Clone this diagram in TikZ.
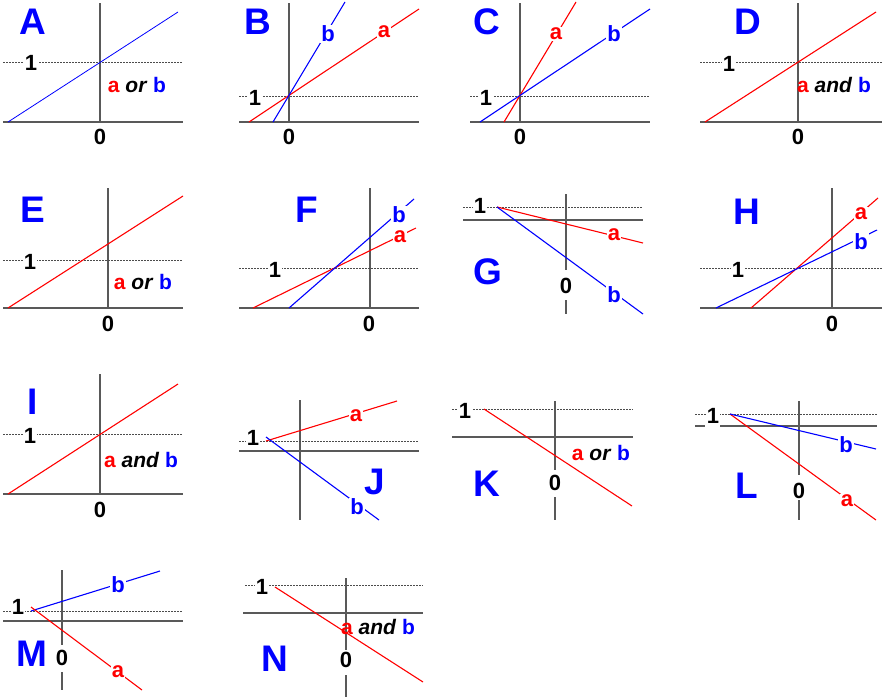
\documentclass[tikz,border=0pt]{standalone}
\usepackage{fontspec}
\setmainfont{Liberation Sans}
\begin{document}
\begin{tikzpicture}[x=1pt,y=-1pt,
  ax/.style={draw=black!65,line width=1.1pt},
  dot/.style={draw=black!70,dash pattern=on 1.5pt off 1.5pt,line width=0.8pt},
  rl/.style={draw=red,line width=1.1pt},
  bl/.style={draw=blue,line width=1.1pt},
  lab/.style={font=\fontsize{37}{37}\selectfont\bfseries,text=blue},
  num/.style={font=\fontsize{22}{22}\selectfont\bfseries,fill=white,inner sep=1pt},
  ta/.style={font=\fontsize{22}{22}\selectfont\bfseries,text=red,fill=white,inner sep=1pt},
  tb/.style={font=\fontsize{22}{22}\selectfont\bfseries,text=blue,fill=white,inner sep=1pt},
  txt/.style={font=\fontsize{21}{21}\selectfont\bfseries,inner sep=1pt}]
\useasboundingbox (0,0) rectangle (882,699);
\newcommand\aor{\textcolor{red}{a} \textit{or} \textcolor{blue}{b}}
\newcommand\aand{\textcolor{red}{a} \textit{and} \textcolor{blue}{b}}
% A
\draw[ax] (100,3)--(100,122) (3,122)--(183,122);
\draw[dot] (3,62)--(183,62);
\node[num] (A1) at (31,63) {1};
\node[num] (A0) at (100,137) {0};
\draw[bl,line width=0.8pt] (8,122)--(178,12);
\node[txt] (At) at (137,85) {\aor};
\node[lab] (A) at (33,22) {A};
% B
\draw[ax] (289,3)--(289,122) (239,122)--(419,122);
\draw[dot] (239,96)--(419,96);
\node[num] (B1) at (255,98) {1};
\node[num] (B0) at (289,137) {0};
\draw[rl] (249,122)--(419,9);
\draw[bl] (273,122)--(345,2);
\node[ta] (Ba) at (384,32) {a};
\node[tb] (Bb) at (328,34) {b};
\node[lab] (B) at (258,22) {B};
% C
\draw[ax] (520,3)--(520,122) (470,122)--(650,122);
\draw[dot] (470,96)--(650,96);
\node[num] (C1) at (486,98) {1};
\node[num] (C0) at (520,137) {0};
\draw[rl] (504,122)--(576,2);
\draw[bl] (480,122)--(650,9);
\node[ta] (Ca) at (556,34) {a};
\node[tb] (Cb) at (614,34) {b};
\node[lab] (C) at (487,22) {C};
% D
\draw[ax] (798,3)--(798,122) (700,122)--(882,122);
\draw[dot] (700,62)--(882,62);
\node[num] (D1) at (729,64) {1};
\node[num] (D0) at (798,137) {0};
\draw[rl] (705,122)--(876,12);
\node[txt] (Dt) at (834,85) {\aand};
\node[lab] (D) at (748,22) {D};
% E
\draw[ax] (108,188)--(108,308) (3,308)--(183,308);
\draw[dot] (3,260)--(183,260);
\node[num] (E1) at (30,262) {1};
\node[num] (E0) at (108,324) {0};
\draw[rl] (8,308)--(183,196);
\node[txt] (Et) at (143,282) {\aor};
\node[lab] (E) at (33,210) {E};
% F
\draw[ax] (370,188)--(370,308) (239,308)--(419,308);
\draw[dot] (239,268)--(419,268);
\node[num] (F1) at (275,270) {1};
\node[num] (F0) at (369,324) {0};
\draw[rl] (253,308)--(416,228);
\draw[bl] (289,308)--(414,199);
\node[ta] (Fa) at (400,237) {a};
\node[tb] (Fb) at (399,215) {b};
\node[lab] (F) at (307,210) {F};
% G
\draw[dot] (463,207)--(643,207);
\draw[ax] (463,220)--(643,220) (566,194)--(566,270) (566,300)--(566,314);
\node[num] (G1) at (480,206) {1};
\node[num] (G0) at (566,286) {0};
\draw[rl] (497,207)--(643,243);
\draw[bl] (497,207)--(643,314);
\node[ta] (Ga) at (614,235) {a};
\node[tb] (Gb) at (614,295) {b};
\node[lab] (G) at (488,272) {G};
% H
\draw[ax] (832,188)--(832,308) (700,308)--(882,308);
\draw[dot] (700,268)--(882,268);
\node[num] (H1) at (738,270) {1};
\node[num] (H0) at (832,324) {0};
\draw[rl] (751,308)--(878,198);
\draw[bl] (716,308)--(877,230);
\node[ta] (Ha) at (861,214) {a};
\node[tb] (Hb) at (861,242) {b};
\node[lab] (H) at (747,212) {H};
% I
\draw[ax] (100,374)--(100,494) (3,494)--(183,494);
\draw[dot] (3,434)--(183,434);
\node[num] (I1) at (30,436) {1};
\node[num] (I0) at (100,510) {0};
\draw[rl] (8,494)--(178,384);
\node[txt] (It) at (141,460) {\aand};
\node[lab] (I) at (33,402) {I};
% J
\draw[ax] (300,400)--(300,520) (239,451)--(419,451);
\draw[dot] (239,441)--(419,441);
\node[num] (J1) at (253,438) {1};
\draw[rl] (266,441)--(397,401);
\draw[bl] (266,437)--(379,520);
\node[ta] (Ja) at (356,416) {a};
\node[tb] (Jb) at (357,507) {b};
\node[lab] (J) at (375,482) {J};
% K
\draw[dot] (452,409)--(633,409);
\draw[ax] (452,437)--(633,437) (555,401)--(555,470) (555,497)--(555,520);
\node[num] (K1) at (465,411) {1};
\node[num] (K0) at (555,483) {0};
\draw[rl] (484,409)--(632,506);
\node[txt] (Kt) at (601,453) {\aor};
\node[lab] (K) at (487,484) {K};
% L
\draw[dot] (695,414)--(877,414);
\draw[ax] (720,426)--(877,426) (695,426)--(705,426) (799,401)--(799,475) (799,500)--(799,520);
\node[num] (L1) at (713,416) {1};
\node[num] (L0) at (799,491) {0};
\draw[rl] (730,414)--(876,520);
\draw[bl] (730,414)--(876,449);
\node[ta] (La) at (847,501) {a};
\node[tb] (Lb) at (846,445) {b};
\node[lab] (L) at (747,486) {L};
% M
\draw[dot] (3,611)--(183,611);
\draw[ax] (3,621)--(183,621) (62,570)--(62,645) (62,672)--(62,690);
\node[num] (M1) at (18,607) {1};
\node[num] (M0) at (62,658) {0};
\draw[bl] (31,611)--(160,571);
\draw[rl] (31,607)--(142,690);
\node[tb] (Mb) at (118,585) {b};
\node[ta] (Ma) at (118,672) {a};
\node[lab] (M) at (32,654) {M};
% N
\draw[dot] (245,585)--(423,585);
\draw[ax] (243,613)--(423,613) (346,578)--(346,650) (346,675)--(346,697);
\node[num] (N1) at (262,587) {1};
\node[num] (N0) at (346,660) {0};
\draw[rl] (275,587)--(423,682);
\node[txt] (Nt) at (378,627) {\aand};
\node[lab] (N) at (275,659) {N};
\end{tikzpicture}
\end{document}
